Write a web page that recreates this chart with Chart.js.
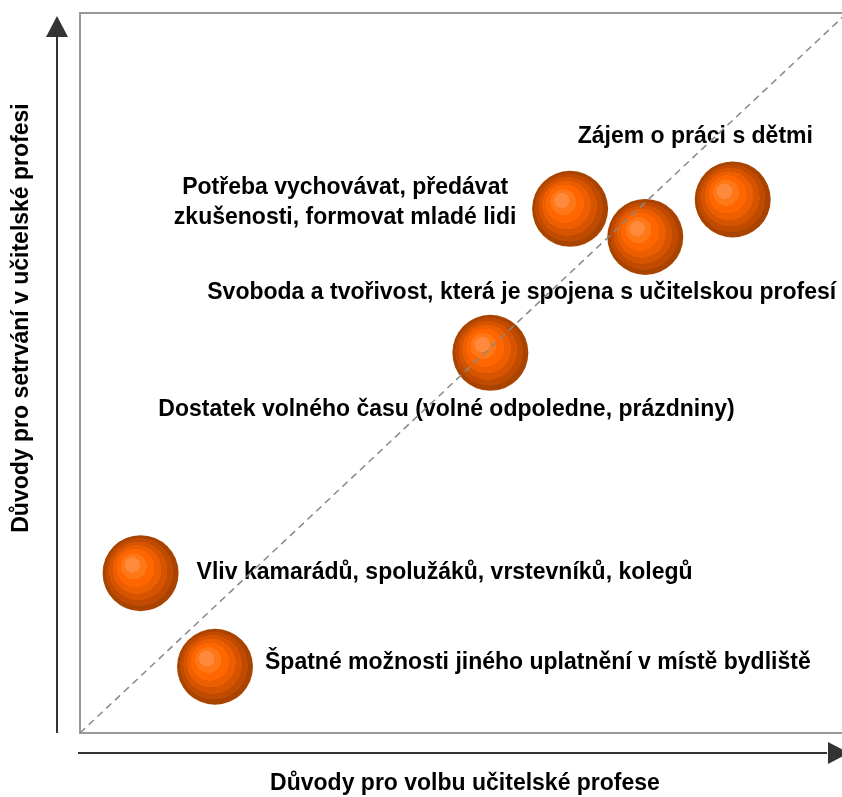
<!DOCTYPE html>
<html lang="cs">
<head>
<meta charset="utf-8">
<title>Důvody pro volbu a setrvání v učitelské profesi</title>
<script src="https://cdn.jsdelivr.net/npm/chart.js@4.4.1/dist/chart.umd.min.js"></script>
<style>
    html, body { margin: 0; padding: 0; background: #fff; overflow: hidden; }
    #wrap { width: 850px; height: 797px; }
</style>
</head>
<body>
<div id="wrap"><canvas id="myChart" width="850" height="797"></canvas></div>
<script>
// Reasons (labels) and their position: x = volba, y = setrvání
const reasons = [
    'Zájem o práci s dětmi',
    'Potřeba vychovávat, předávat\nzkušenosti, formovat mladé lidi',
    'Svoboda a tvořivost, která je spojena s učitelskou profesí',
    'Dostatek volného času (volné odpoledne, prázdniny)',
    'Vliv kamarádů, spolužáků, vrstevníků, kolegů',
    'Špatné možnosti jiného uplatnění v místě bydliště'
];
const choiceScores = [85.1, 63.9, 73.7, 53.5, 7.9, 17.6];
const stayScores = [74.1, 72.8, 68.9, 52.8, 22.2, 9.2];
const diagonal = [0, 100];

const xTitle = 'Důvody pro volbu učitelské profese';
const yTitle = 'Důvody pro setrvání v učitelské profesi';

const FONT = '"Liberation Sans", Arial, sans-serif';

// label placement relative to the bubble centre
const labelPlacement = [
    { dx: -155, dy: -63, align: 'left' },
    { dx: -225, dy: -21, align: 'center' },
    { dx: -438, dy: 56, align: 'left' },
    { dx: -332, dy: 57, align: 'left' },
    { dx: 56, dy: -1, align: 'left' },
    { dx: 50, dy: -4, align: 'left' }
];

function bubbleFill(context) {
    const chart = context.chart;
    const raw = context.raw;
    if (!chart.chartArea || !raw) return '#e05a00';
    const cx = chart.scales.x.getPixelForValue(raw.x);
    const cy = chart.scales.y.getPixelForValue(raw.y);
    const r = 38;
    const g = chart.ctx.createRadialGradient(cx - 0.27 * r, cy - 0.27 * r, 0, cx, cy, r);
    const bands = [
        [0.2, '#ff8a3d'],
        [0.34, '#ff7818'],
        [0.5, '#ff6600'],
        [0.64, '#ec5e00'],
        [0.77, '#d65400'],
        [0.89, '#c04b00'],
        [1, '#a94300']
    ];
    let prev = 0;
    bands.forEach(([stop, col]) => {
        g.addColorStop(prev, col);
        g.addColorStop(stop, col);
        prev = stop;
    });
    return g;
}

const framePlugin = {
    id: 'frame',
    beforeDatasetsDraw(chart) {
        const { ctx, chartArea: a } = chart;
        ctx.save();
        // plot border
        ctx.strokeStyle = '#999';
        ctx.lineWidth = 2;
        ctx.strokeRect(a.left, a.top, a.right - a.left, a.bottom - a.top);

        // axis arrows
        ctx.strokeStyle = '#333';
        ctx.fillStyle = '#333';
        const ax = a.left - 23;
        ctx.beginPath();
        ctx.moveTo(ax, a.bottom);
        ctx.lineTo(ax, a.top + 22);
        ctx.stroke();
        ctx.beginPath();
        ctx.moveTo(ax, a.top + 3);
        ctx.lineTo(ax - 11, a.top + 24);
        ctx.lineTo(ax + 11, a.top + 24);
        ctx.closePath();
        ctx.fill();

        const ay = a.bottom + 20;
        ctx.beginPath();
        ctx.moveTo(a.left - 2, ay);
        ctx.lineTo(a.right - 20, ay);
        ctx.stroke();
        ctx.beginPath();
        ctx.moveTo(a.right + 2, ay);
        ctx.lineTo(a.right - 19, ay - 11);
        ctx.lineTo(a.right - 19, ay + 11);
        ctx.closePath();
        ctx.fill();

        // axis titles
        ctx.fillStyle = '#000';
        ctx.font = 'bold 23px ' + FONT;
        ctx.textAlign = 'center';
        ctx.textBaseline = 'middle';
        ctx.fillText(xTitle, 465, a.bottom + 51);
        ctx.save();
        ctx.translate(22, 318);
        ctx.rotate(-Math.PI / 2);
        ctx.fillText(yTitle, 0, 0);
        ctx.restore();

        // bubble labels
        const meta = chart.getDatasetMeta(0);
        ctx.font = 'bold 23px ' + FONT;
        meta.data.forEach((pt, i) => {
            const p = labelPlacement[i];
            ctx.textAlign = p.align;
            reasons[i].split('\n').forEach((line, k) => {
                ctx.fillText(line, pt.x + p.dx, pt.y + p.dy + k * 30);
            });
        });
        ctx.restore();
    }
};

document.addEventListener('DOMContentLoaded', () => {
    const canvas = document.getElementById('myChart');
    const ctx = canvas.getContext('2d');

    new Chart(ctx, {
        type: 'scatter',
        data: {
            datasets: [
                {
                    label: 'Důvody',
                    data: reasons.map((_, i) => ({ x: choiceScores[i], y: stayScores[i] })),
                    backgroundColor: bubbleFill,
                    borderWidth: 0,
                    pointRadius: 38,
                    pointHoverRadius: 38,
                    order: 1
                },
                {
                    label: 'Diagonála',
                    type: 'line',
                    data: diagonal.map(v => ({ x: v, y: v })),
                    borderColor: '#888',
                    borderWidth: 1.5,
                    borderDash: [7, 5],
                    pointRadius: 0,
                    fill: false,
                    order: 0
                }
            ]
        },
        options: {
            responsive: false,
            animation: false,
            layout: { autoPadding: false, padding: { left: 80, top: 13, right: 3, bottom: 64 } },
            plugins: {
                legend: { display: false },
                tooltip: { enabled: false }
            },
            scales: {
                x: { type: 'linear', min: 0, max: 100, display: false },
                y: { type: 'linear', min: 0, max: 100, display: false }
            }
        },
        plugins: [framePlugin]
    });
});
</script>
</body>
</html>
